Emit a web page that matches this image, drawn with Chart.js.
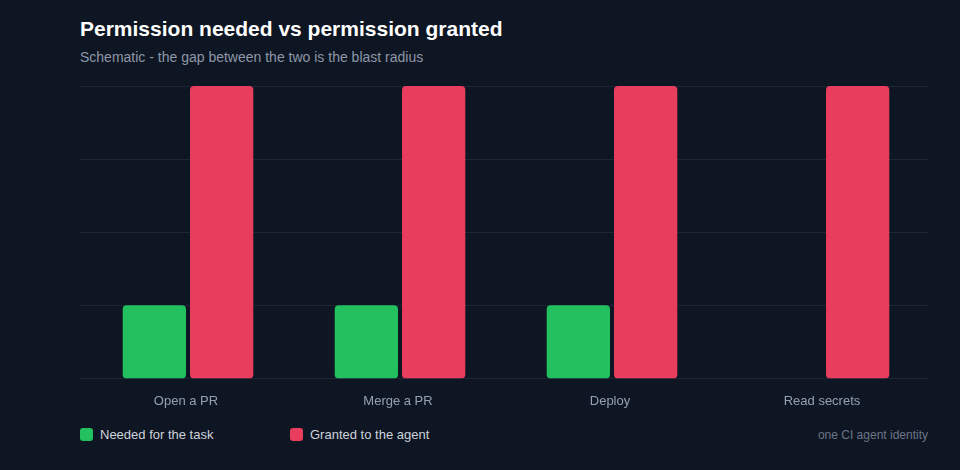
<!DOCTYPE html>
<html><head><meta charset="utf-8">
<script src="https://cdn.jsdelivr.net/npm/chart.js@4/dist/chart.umd.min.js"></script>
<style>
html,body{margin:0;padding:0;background:#0f1623;width:960px;height:470px;overflow:hidden;font-family:"Liberation Sans",Arial,Helvetica,sans-serif;}
#title{position:absolute;left:80px;top:17px;color:#ffffff;font-weight:bold;font-size:21px;}
#sub{position:absolute;left:80px;top:49px;color:#8d97a8;font-size:14px;}
#wrap{position:absolute;left:0;top:0;width:960px;height:424px;}
.leg{position:absolute;top:427px;font-size:13px;color:#cdd3dc;display:flex;align-items:center;}
.sw{width:13px;height:13px;border-radius:3px;margin-right:7px;}
#note{position:absolute;right:32px;top:428px;font-size:12px;color:#6b7588;}
</style></head>
<body>
<div id="title">Permission needed vs permission granted</div>
<div id="sub">Schematic - the gap between the two is the blast radius</div>
<div id="wrap"><canvas id="c"></canvas></div>
<div class="leg" style="left:80px"><div class="sw" style="background:#22c05e"></div>Needed for the task</div>
<div class="leg" style="left:290px"><div class="sw" style="background:#e93d5e"></div>Granted to the agent</div>
<div id="note">one CI agent identity</div>
<script>
const categories = ["Open a PR", "Merge a PR", "Deploy", "Read secrets"];
const neededValues = [1, 1, 1, 0];
const grantedValues = [4, 4, 4, 4];
const seriesNames = ["Needed for the task", "Granted to the agent"];

const gridPlugin = {
  id: 'gridShift',
  beforeDatasetsDraw(chart) {
    const {ctx, chartArea, scales} = chart;
    const y = scales.y;
    ctx.save();
    ctx.strokeStyle = '#1e2636';
    ctx.lineWidth = 1;
    y.ticks.forEach(t => {
      const py = Math.round(y.getPixelForValue(t.value)) + 0.5;
      ctx.beginPath();
      ctx.moveTo(chartArea.left - 2, py);
      ctx.lineTo(chartArea.right - 2, py);
      ctx.stroke();
    });
    ctx.restore();
  }
};

new Chart(document.getElementById('c'), {
  type: 'bar',
  data: {
    labels: categories,
    datasets: [
      {label: seriesNames[0], data: neededValues, backgroundColor: '#22c05e', borderRadius: 4, borderSkipped: false, categoryPercentage: 0.635, barPercentage: 0.94},
      {label: seriesNames[1], data: grantedValues, backgroundColor: '#e93d5e', borderRadius: 4, borderSkipped: false, categoryPercentage: 0.635, barPercentage: 0.94}
    ]
  },
  options: {
    responsive: true,
    maintainAspectRatio: false,
    animation: false,
    layout: {padding: {left: 82, right: 30, top: 86, bottom: 0}},
    plugins: {legend: {display: false}, tooltip: {enabled: false}},
    scales: {
      x: {
        grid: {display: false, drawTicks: false},
        border: {display: false},
        ticks: {color: '#94a0b2', font: {family: '"Liberation Sans", Arial, sans-serif', size: 13}, padding: 15, labelOffset: -2}
      },
      y: {
        min: 0, max: 4,
        ticks: {display: false, stepSize: 1},
        grid: {display: false, drawTicks: false},
        border: {display: false}
      }
    }
  },
  plugins: [gridPlugin]
});
</script>
</body></html>
